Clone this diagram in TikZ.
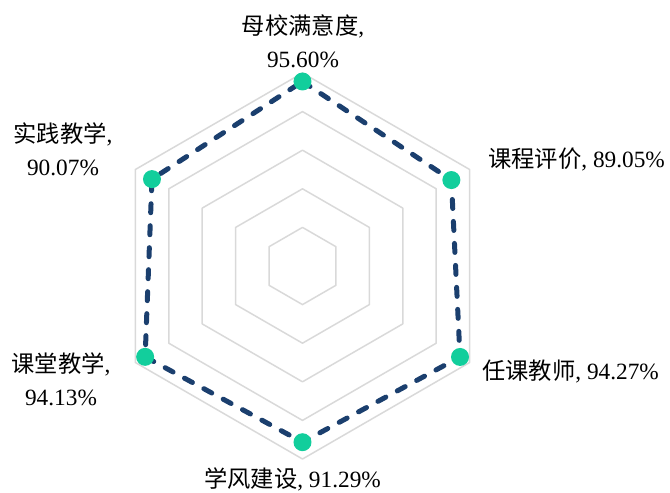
\documentclass[tikz,border=0pt]{standalone}
\usepackage{fontspec}
\setmainfont{Liberation Serif}
\newfontfamily\cjk{Noto Sans CJK SC}
\definecolor{gridgray}{RGB}{217,217,217}
\definecolor{dotgreen}{RGB}{18,206,156}
\definecolor{scoreblue}{RGB}{27,63,110}
\begin{document}
\begin{tikzpicture}[x=1pt,y=1pt,
        grid/.style = {draw=gridgray, line width=1.5pt, line join=round},
        score/.style = {draw=scoreblue, line width=5pt, line cap=round, line join=round, dash pattern=on 9pt off 13pt},
        dot/.style = {circle, fill=dotgreen, inner sep=0pt, minimum size=18pt},
        lbl/.style = {inner sep=0pt, font=\fontsize{23.3}{33}\selectfont, align=center}
    ]
        \useasboundingbox (-302.5,-227) rectangle (367.5,266);
        % grid rings
        \foreach \r in {38.6,77.2,115.8,154.4,193}
            \draw[grid] (90:\r) -- (30:\r) -- (-30:\r) -- (-90:\r) -- (210:\r) -- (150:\r) -- cycle;
        % scores
        \coordinate (satis) at (90:184.5);
        \coordinate (course) at (30:171.9);
        \coordinate (teacher) at (-30:181.9);
        \coordinate (study) at (-90:176.2);
        \coordinate (class) at (210:181.7);
        \coordinate (practice) at (150:173.8);
        \draw[score] (satis) -- (course) -- (teacher) -- (study) -- (class) -- (practice) -- cycle;
        \foreach \n in {satis,course,teacher,study,class,practice}
            \node[dot] (\n-dot) at (\n) {};
        % labels
        \node[lbl] (satis-lbl) at (0.5,224.5) {{\cjk 母校满意度},\\95.60\%};
        \node[lbl,anchor=west] (course-lbl) at (185.5,107) {{\cjk 课程评价}, 89.05\%};
        \node[lbl,anchor=west] (teacher-lbl) at (179.5,-106) {{\cjk 任课教师}, 94.27\%};
        \node[lbl] (study-lbl) at (-10,-213) {{\cjk 学风建设}, 91.29\%};
        \node[lbl] (class-lbl) at (-241.5,-113) {{\cjk 课堂教学},\\94.13\%};
        \node[lbl] (practice-lbl) at (-239.5,117) {{\cjk 实践教学},\\90.07\%};
    \end{tikzpicture}
\end{document}
